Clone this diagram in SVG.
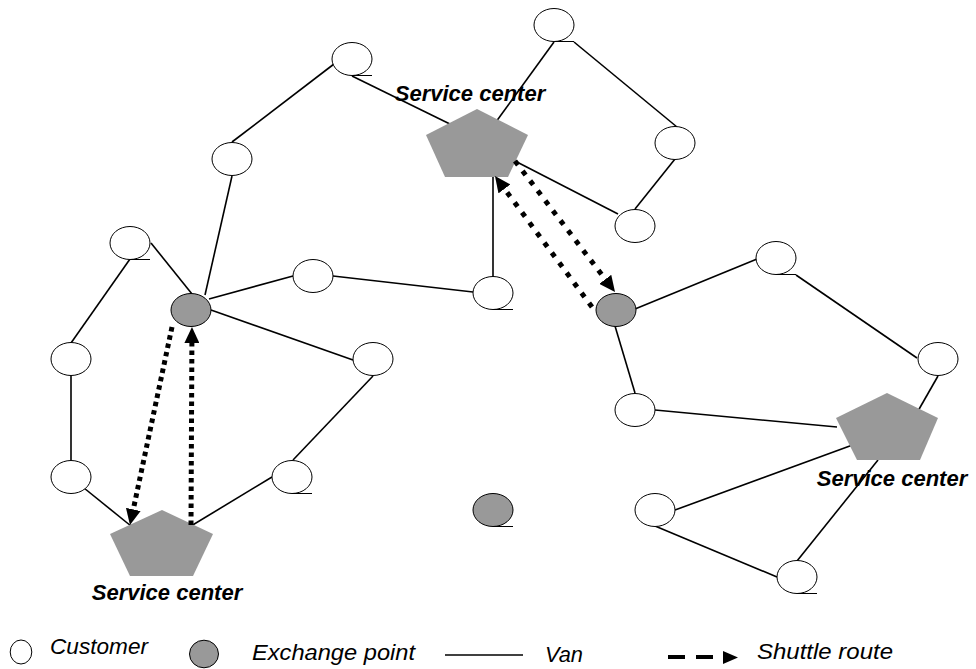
<svg xmlns="http://www.w3.org/2000/svg" width="976" height="669" viewBox="0 0 976 669">
  <style>
    .cust { fill: #ffffff; stroke: #000000; stroke-width: 1; }
    .exch { fill: #999999; stroke: #000000; stroke-width: 1; }
    .svc { fill: #999999; stroke: none; }
    .tail { stroke: #000000; stroke-width: 1; fill: none; }
    .van { stroke: #000000; stroke-width: 1.6; fill: none; }
    .shuttle { stroke: #000000; stroke-width: 5; fill: none; stroke-linecap: butt; }
    .sL { stroke-dasharray: 4.5 4; }
    .sR { stroke-dasharray: 5 7.5; }
    .label { font-family: "Liberation Sans", Arial, sans-serif; font-style: italic; font-weight: bold; font-size: 22px; fill: #000000; }
    .legend { font-family: "Liberation Sans", Arial, sans-serif; font-style: italic; font-size: 22px; fill: #000000; }
  </style>
  <defs>
    <marker id="arrow" viewBox="0 0 16 15" refX="0" refY="7.5" markerWidth="16" markerHeight="15" markerUnits="userSpaceOnUse" orient="auto">
      <path d="M0,0 L16,7.5 L0,15 Z" fill="#000000"/>
    </marker>
  </defs>

  <rect width="976" height="669" fill="#ffffff"/>

  <!-- van routes -->
  <g id="connectors">
    <g id="vans">
      <line class="van" x1="352" y1="76" x2="454" y2="126"/>
      <line class="van" x1="554" y1="42" x2="493" y2="126"/>
      <line class="van" x1="574" y1="42" x2="677" y2="127"/>
      <line class="van" x1="675" y1="159" x2="635" y2="209"/>
      <line class="van" x1="618" y1="214" x2="515" y2="161"/>
      <line class="van" x1="334" y1="64" x2="232" y2="142"/>
      <line class="van" x1="232" y1="176" x2="205" y2="295"/>
      <line class="van" x1="151" y1="243" x2="192" y2="294"/>
      <line class="van" x1="130" y1="259" x2="71" y2="343"/>
      <line class="van" x1="209" y1="299" x2="293" y2="276"/>
      <line class="van" x1="333" y1="276" x2="473" y2="292"/>
      <line class="van" x1="211" y1="310" x2="353" y2="360"/>
      <line class="van" x1="373" y1="376" x2="293" y2="460"/>
      <line class="van" x1="272" y1="477" x2="191" y2="526"/>
      <line class="van" x1="71" y1="376" x2="71" y2="460"/>
      <line class="van" x1="84" y1="488" x2="131" y2="526"/>
      <line class="van" x1="493" y1="277" x2="493" y2="176"/>
      <line class="van" x1="635" y1="309" x2="757" y2="259"/>
      <line class="van" x1="796" y1="275" x2="917" y2="358"/>
      <line class="van" x1="938" y1="376" x2="918" y2="411"/>
      <line class="van" x1="615" y1="326" x2="635" y2="393"/>
      <line class="van" x1="655" y1="410" x2="837" y2="427"/>
      <line class="van" x1="675" y1="510" x2="858" y2="443"/>
      <line class="van" x1="655" y1="526" x2="777" y2="577"/>
      <line class="van" x1="797" y1="561" x2="878" y2="460"/>
    </g>
  </g>

  <!-- service centers -->
  <g id="service-center-top">
    <polygon class="svc" points="477,109 528,135 508,177 445,177 426,135"/>
    <text class="label" x="470" y="101" text-anchor="middle">Service center</text>
  </g>
  <g id="service-center-right">
    <polygon class="svc" points="887,393 938,418 920,460 857,460 836,418"/>
    <text class="label" x="892" y="486" text-anchor="middle">Service center</text>
  </g>
  <g id="service-center-left">
    <polygon class="svc" points="162,510 213,534 193,576 130,576 110,534"/>
    <text class="label" x="167" y="600" text-anchor="middle">Service center</text>
  </g>

  <!-- customers -->
  <g id="customer-1"><ellipse class="cust" cx="352" cy="59" rx="20" ry="16.5"/><line class="tail" x1="352" y1="75.5" x2="372" y2="75.5"/></g>
  <g id="customer-2"><ellipse class="cust" cx="554" cy="25" rx="20" ry="16.5"/><line class="tail" x1="554" y1="41.5" x2="574" y2="41.5"/></g>
  <g id="customer-3"><ellipse class="cust" cx="675" cy="143" rx="20" ry="16.5"/></g>
  <g id="customer-4"><ellipse class="cust" cx="635" cy="226" rx="20" ry="16.5"/></g>
  <g id="customer-5"><ellipse class="cust" cx="232" cy="159" rx="20" ry="16.5"/></g>
  <g id="customer-6"><ellipse class="cust" cx="130" cy="243" rx="20" ry="16.5"/><line class="tail" x1="130" y1="259.5" x2="150" y2="259.5"/></g>
  <g id="customer-7"><ellipse class="cust" cx="313" cy="276" rx="20" ry="16.5"/></g>
  <g id="customer-8"><ellipse class="cust" cx="493" cy="293" rx="20" ry="16.5"/><line class="tail" x1="493" y1="309.5" x2="513" y2="309.5"/></g>
  <g id="customer-9"><ellipse class="cust" cx="71" cy="359" rx="20" ry="16.5"/></g>
  <g id="customer-10"><ellipse class="cust" cx="373" cy="359" rx="20" ry="16.5"/></g>
  <g id="customer-11"><ellipse class="cust" cx="71" cy="477" rx="20" ry="16.5"/></g>
  <g id="customer-12"><ellipse class="cust" cx="292" cy="477" rx="20" ry="16.5"/><line class="tail" x1="292" y1="493.5" x2="312" y2="493.5"/></g>
  <g id="customer-13"><ellipse class="cust" cx="776" cy="258" rx="20" ry="16.5"/><line class="tail" x1="776" y1="274.5" x2="796" y2="274.5"/></g>
  <g id="customer-14"><ellipse class="cust" cx="938" cy="359" rx="20" ry="16.5"/></g>
  <g id="customer-15"><ellipse class="cust" cx="635" cy="410" rx="20" ry="16.5"/></g>
  <g id="customer-16"><ellipse class="cust" cx="655" cy="510" rx="20" ry="16.5"/></g>
  <g id="customer-17"><ellipse class="cust" cx="797" cy="577" rx="20" ry="16.5"/><line class="tail" x1="797" y1="593.5" x2="817" y2="593.5"/></g>

  <!-- exchange points -->
  <g id="exchange-1"><ellipse class="exch" cx="191" cy="310" rx="20" ry="16.5"/></g>
  <g id="exchange-2"><ellipse class="exch" cx="616" cy="310" rx="20" ry="16.5"/></g>
  <g id="exchange-3"><ellipse class="exch" cx="493" cy="510" rx="20" ry="16.5"/><line class="tail" x1="493" y1="526.5" x2="513" y2="526.5"/></g>

  <!-- shuttle routes -->
  <g id="shuttles">
    <line class="shuttle sL" x1="172" y1="327" x2="133.3" y2="509.4" marker-end="url(#arrow)"/>
    <line class="shuttle sL" x1="191" y1="525" x2="191.9" y2="343" marker-end="url(#arrow)"/>
    <line class="shuttle sR" x1="515" y1="161" x2="605.3" y2="279.3" marker-end="url(#arrow)"/>
    <line class="shuttle sR" x1="592" y1="307" x2="504.5" y2="188.9" marker-end="url(#arrow)"/>
  </g>

  <!-- legend -->
  <g id="legend">
    <ellipse class="cust" cx="21" cy="652" rx="10.8" ry="12"/>
    <text class="legend" x="50" y="654" textLength="98" lengthAdjust="spacingAndGlyphs">Customer</text>
    <ellipse class="exch" cx="204" cy="654" rx="14.5" ry="13.8"/>
    <text class="legend" x="252" y="660" textLength="163" lengthAdjust="spacingAndGlyphs">Exchange point</text>
    <line class="van" x1="445" y1="655" x2="523" y2="655"/>
    <text class="legend" x="545" y="662" textLength="38" lengthAdjust="spacingAndGlyphs">Van</text>
    <line x1="668" y1="657" x2="713" y2="657" stroke="#000000" stroke-width="4" stroke-dasharray="17 11"/>
    <path d="M723,651 L738,657.5 L723,664 Z" fill="#000000"/>
    <text class="legend" x="757" y="659" textLength="136" lengthAdjust="spacingAndGlyphs">Shuttle route</text>
  </g>
</svg>
